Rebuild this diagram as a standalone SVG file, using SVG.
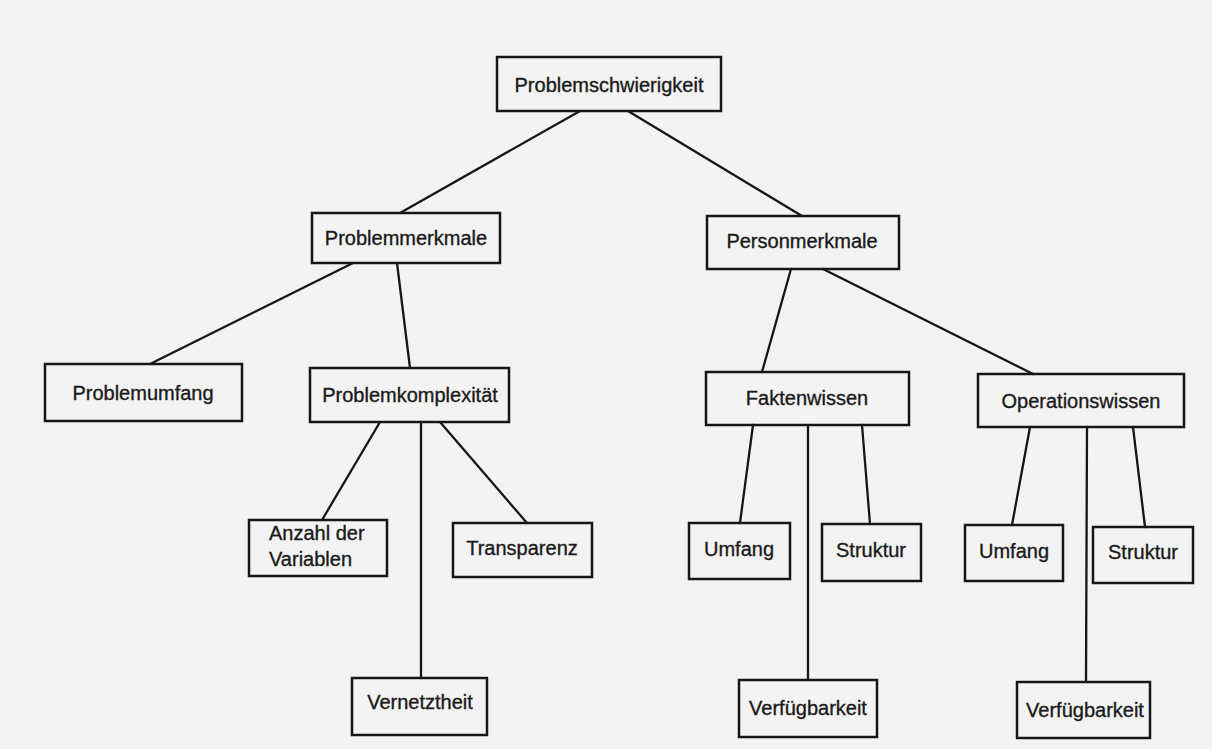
<svg xmlns="http://www.w3.org/2000/svg" width="1212" height="749" viewBox="0 0 1212 749">
<style>
.box{fill:none;stroke:#161616;stroke-width:2.5}
.lbl{font-family:"Liberation Sans",Arial,sans-serif;font-size:20px;fill:#1a1a1a;stroke:#1a1a1a;stroke-width:0.35;text-anchor:middle}
.lft{text-anchor:start}
#connectors line{stroke:#161616;stroke-width:2.3;stroke-linecap:round}
</style>
<rect x="0" y="0" width="1212" height="749" fill="#f3f3f3"/>
<g id="connectors">
<line x1="580" y1="111" x2="400" y2="213"/>
<line x1="628" y1="111" x2="802" y2="216"/>
<line x1="353" y1="263" x2="150" y2="364"/>
<line x1="397" y1="263" x2="410" y2="368"/>
<line x1="791" y1="269" x2="762" y2="372"/>
<line x1="823" y1="269" x2="1033" y2="374"/>
<line x1="380" y1="422" x2="322" y2="520"/>
<line x1="421" y1="422" x2="421" y2="678"/>
<line x1="440" y1="422" x2="527" y2="523"/>
<line x1="753" y1="425" x2="740" y2="523"/>
<line x1="808" y1="425" x2="808" y2="680"/>
<line x1="862" y1="425" x2="870" y2="524"/>
<line x1="1030" y1="427" x2="1012" y2="525"/>
<line x1="1087" y1="427" x2="1086" y2="682"/>
<line x1="1133" y1="427" x2="1145" y2="527"/>
</g>
<g id="n-problemschwierigkeit"><rect class="box" x="497" y="57" width="224" height="54"/><text class="lbl" x="609" y="92">Problemschwierigkeit</text></g>
<g id="n-problemmerkmale"><rect class="box" x="312" y="213" width="188" height="50"/><text class="lbl" x="406" y="245">Problemmerkmale</text></g>
<g id="n-personmerkmale"><rect class="box" x="707" y="216" width="192" height="53"/><text class="lbl" x="802" y="248">Personmerkmale</text></g>
<g id="n-problemumfang"><rect class="box" x="45" y="364" width="197" height="57"/><text class="lbl" x="143" y="400">Problemumfang</text></g>
<g id="n-problemkomplexitaet"><rect class="box" x="310" y="368" width="199" height="54"/><text class="lbl" x="410" y="402">Problemkomplexität</text></g>
<g id="n-faktenwissen"><rect class="box" x="706" y="372" width="203" height="53"/><text class="lbl" x="807" y="405">Faktenwissen</text></g>
<g id="n-operationswissen"><rect class="box" x="978" y="374" width="206" height="53"/><text class="lbl" x="1081" y="408">Operationswissen</text></g>
<g id="n-anzahl"><rect class="box" x="249" y="520" width="138" height="56"/><text class="lbl lft" x="269" y="540">Anzahl der</text><text class="lbl lft" x="269" y="566">Variablen</text></g>
<g id="n-transparenz"><rect class="box" x="453" y="523" width="139" height="54"/><text class="lbl" x="522" y="555">Transparenz</text></g>
<g id="n-umfang1"><rect class="box" x="689" y="523" width="101" height="56"/><text class="lbl" x="739" y="556">Umfang</text></g>
<g id="n-struktur1"><rect class="box" x="822" y="524" width="99" height="57"/><text class="lbl" x="871" y="557">Struktur</text></g>
<g id="n-umfang2"><rect class="box" x="965" y="525" width="98" height="56"/><text class="lbl" x="1014" y="558">Umfang</text></g>
<g id="n-struktur2"><rect class="box" x="1093" y="527" width="100" height="56"/><text class="lbl" x="1143" y="559">Struktur</text></g>
<g id="n-vernetztheit"><rect class="box" x="352" y="678" width="135" height="57"/><text class="lbl" x="420" y="709">Vernetztheit</text></g>
<g id="n-verfuegbarkeit1"><rect class="box" x="739" y="680" width="138" height="57"/><text class="lbl" x="808" y="715">Verfügbarkeit</text></g>
<g id="n-verfuegbarkeit2"><rect class="box" x="1017" y="682" width="133" height="56"/><text class="lbl" x="1085" y="717">Verfügbarkeit</text></g>
</svg>
